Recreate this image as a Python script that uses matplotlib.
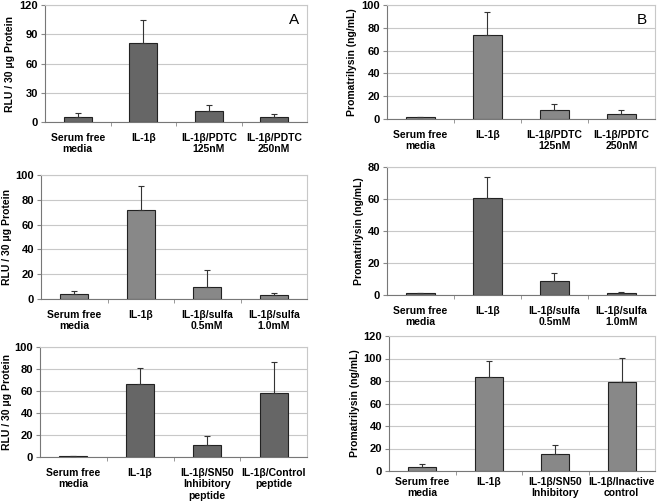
import numpy as np
import matplotlib
matplotlib.use('Agg')
import matplotlib.pyplot as plt

plt.rcParams['font.family'] = ['Liberation Sans', 'DejaVu Sans']

# category labels
pdtc_labels = ['Serum free\nmedia', 'IL-1\u03b2', 'IL-1\u03b2/PDTC\n125nM', 'IL-1\u03b2/PDTC\n250nM']
sulfa_labels = ['Serum free\nmedia', 'IL-1\u03b2', 'IL-1\u03b2/sulfa\n0.5mM', 'IL-1\u03b2/sulfa\n1.0mM']
sn50_labels_a = ['Serum free\nmedia', 'IL-1\u03b2', 'IL-1\u03b2/SN50\nInhibitory\npeptide', 'IL-1\u03b2/Control\npeptide']
sn50_labels_b = ['Serum free\nmedia', 'IL-1\u03b2', 'IL-1\u03b2/SN50\nInhibitory', 'IL-1\u03b2/Inactive\ncontrol']

# values (mean, upper error)
a1_vals = [5.5, 81, 11.5, 5.5]
a1_err = [3.5, 24, 6, 3]
b1_vals = [1.5, 74, 7.5, 4.5]
b1_err = [0.4, 20, 6, 3.5]
a2_vals = [4, 72, 10, 3]
a2_err = [2.5, 19, 13.5, 1.5]
b2_vals = [1.2, 60.5, 9, 1.5]
b2_err = [0.3, 13, 4.5, 0.5]
a3_vals = [0.7, 66, 10.5, 58.5]
a3_err = [0.2, 15, 8.5, 28]
b3_vals = [4, 84, 15.5, 79.5]
b3_err = [2, 13.5, 7.5, 21]

ylab_a = 'RLU / 30 \u03bcg Protein'
ylab_b = 'Promatrilysin (ng/mL)'

W, H = 661, 501
fig = plt.figure(figsize=(W / 100, H / 100), dpi=100)

def add_panel(px, labx, labels, vals, errs, ymax, step, ylab, color, letter=None, xpad=8):
    x0, x1, y0, y1 = px
    ax = fig.add_axes([x0 / W, (H - y1) / H, (x1 - x0) / W, (y1 - y0) / H])
    x = np.arange(len(vals))
    ax.bar(x, vals, width=0.42, color=color, edgecolor='#222222', linewidth=0.8, zorder=3)
    ax.errorbar(x, vals, yerr=[np.zeros(len(vals)), errs], fmt='none',
                ecolor='#333333', elinewidth=0.8, capsize=2.5, capthick=0.8, zorder=4)
    ax.set_xlim(-0.5, len(vals) - 0.5)
    ax.set_ylim(0, ymax)
    ax.set_yticks(np.arange(0, ymax + 0.1, step))
    ax.yaxis.grid(True, color='#c8c8c8', linewidth=0.8, zorder=0)
    ax.set_xticks(x)
    ax.set_xticklabels(labels, fontsize=7.5, fontweight='bold', linespacing=1.15)
    ax.set_xticks(np.arange(0.5, len(vals) - 1, 1), minor=True)
    ax.tick_params(axis='x', which='major', length=0, pad=xpad)
    ax.tick_params(axis='x', which='minor', length=3, color='#888888')
    ax.tick_params(axis='y', length=3, color='#888888', labelsize=8, pad=2)
    for t in ax.get_yticklabels():
        t.set_fontweight('bold')
    ax.set_ylabel(ylab, fontsize=7.5, fontweight='bold')
    ax.yaxis.label.set_va('center')
    ax.yaxis.set_label_coords((labx - x0) / (x1 - x0), 0.5)
    for s in ['left', 'bottom']:
        ax.spines[s].set_color('#777777')
    for s in ['top', 'right']:
        ax.spines[s].set_color('#c8c8c8')
    if letter:
        ax.text(0.97, 0.93, letter, transform=ax.transAxes, ha='right', va='top', fontsize=11)
    return ax

add_panel((45, 307, 5, 122), 10, pdtc_labels, a1_vals, a1_err, 120, 30, ylab_a, '#666666', 'A')
add_panel((387, 655, 5, 119), 352, pdtc_labels, b1_vals, b1_err, 100, 20, ylab_b, '#888888', 'B')
add_panel((41, 307, 175, 299), 7, sulfa_labels, a2_vals, a2_err, 100, 20, ylab_a, '#888888')
add_panel((387, 655, 167, 295), 359, sulfa_labels, b2_vals, b2_err, 80, 20, ylab_b, '#6a6a6a')
add_panel((40, 307, 347, 457), 7, sn50_labels_a, a3_vals, a3_err, 100, 20, ylab_a, '#666666')
add_panel((389, 655, 336, 471), 355, sn50_labels_b, b3_vals, b3_err, 120, 20, ylab_b, '#888888', xpad=4)

fig.savefig('out.png', dpi=100)
